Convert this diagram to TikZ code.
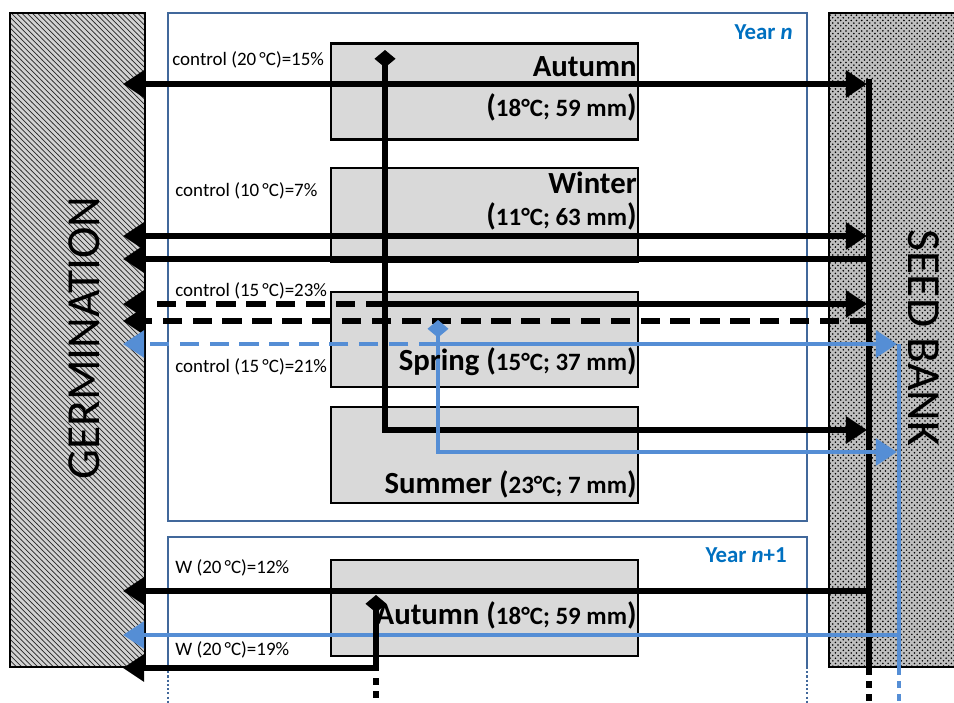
\documentclass[tikz,border=0pt]{standalone}
\usepackage{fontspec}
\setmainfont{Carlito}
\usepackage{xcolor}
\usetikzlibrary{arrows.meta,patterns,positioning}
\definecolor{frameblue}{HTML}{41689B}
\definecolor{yearblue}{HTML}{0070C0}
\definecolor{cohortblue}{HTML}{558ED5}
\definecolor{seasongray}{HTML}{D9D9D9}
\newcommand{\climfont}{\fontsize{14.2}{17}\selectfont}
\newcommand{\namefont}{\fontsize{17.5}{20}\selectfont\bfseries}
\newcommand{\clim}[1]{({\climfont #1})}
\tikzset{
  bigtri/.tip={Triangle[length=12pt,width=15pt]},
  gem/.tip={Diamond[length=10pt,width=12pt]},
  pool/.style={
    rectangle,
    draw=black,
    line width=1.2pt,
    inner sep=0pt,
    minimum height=13.08cm
  },
  season/.style={
    rectangle,
    draw=black,
    fill=seasongray,
    line width=1.3pt,
    inner sep=0pt,
    minimum width=6.14cm,
    minimum height=1.92cm
  },
  yearframe/.style={draw=frameblue, line width=1.1pt},
  seasontext/.style={anchor=east, inner sep=0pt, font=\namefont},
  ctrl/.style={anchor=west, inner sep=0pt, font=\fontsize{10.8}{13}\selectfont},
  yeartag/.style={anchor=east, inner sep=0pt, text=yearblue, font=\fontsize{13}{15}\selectfont\bfseries},
  pooltext/.style={inner sep=0pt, font=\fontsize{27}{30}\selectfont},
  flow/.style={line width=3.1pt, black},
  blueflow/.style={line width=2.7pt, cohortblue},
  dashline/.style={dash pattern=on 11pt off 6pt},
  tail/.style={dash pattern=on 4pt off 3.5pt}
}

\begin{document}
\begin{tikzpicture}[x=0.02cm, y=-0.02cm]
  \useasboundingbox (0,0) rectangle (954,703);

  % germination and seed bank
  \node[pool, preaction={fill=gray!35}, pattern=north west lines, pattern color=black!85,
        minimum width=2.7cm] (germ) at (77.5,340) {};
  \node[pool, preaction={fill=gray!50}, pattern=crosshatch dots, pattern color=black,
        minimum width=2.62cm] (bank) at (894.5,340) {};
  \node[pooltext, rotate=90] (germT) at (84,338) {GERMINATION};
  \node[pooltext, rotate=-90] (bankT) at (924,338) {SEED BANK};

  % years
  \node[yearframe, rectangle, inner sep=0pt, minimum width=12.78cm, minimum height=10.16cm] (yearn) at (487.5,267) {};
  \draw[yearframe] (168,667) |- (807,537) -- (807,667);
  \draw[yearframe, line width=0.9pt, dash pattern=on 1.2pt off 1.2pt] (168,667) -- (168,703);
  \draw[yearframe, line width=0.9pt, dash pattern=on 1.2pt off 1.2pt] (807,667) -- (807,703);
  \node[yeartag] (yearnT) at (793,32) {Year \textit{n}};
  \node[yeartag] (yearmT) at (787,555) {Year \textit{n}+1};

  % seasons
  \node[season] (aut) at (484.5,91.5) {};
  \node[season, minimum height=1.88cm, below=0.53cm of aut] (win) {};
  \node[season, minimum height=1.9cm, below=0.55cm of win] (spr) {};
  \node[season, below=0.36cm of spr] (sum) {};
  \node[season] (nxt) at (484.5,608) {};

  % germination controls
  \node[ctrl] (c20) at (172,60) {control (20\,°C)=15\%};
  \node[ctrl] (c10) at (175,191) {control (10\,°C)=7\%};
  \node[ctrl] (c15a) at (175,291) {control (15\,°C)=23\%};
  \node[ctrl] (c15b) at (175,367) {control (15\,°C)=21\%};
  \node[ctrl] (w12) at (175,568) {W (20\,°C)=12\%};
  \node[ctrl] (w19) at (175,650) {W (20\,°C)=19\%};

  % flow rows
  \foreach \rw/\yy in {a/84, w/236, wb/259, sp/304, sd/321, bl/344, su/430, sb/452, nk/591, nb/635, nx/668} {
    \coordinate (gin-\rw) at (123,\yy);
  }
  \coordinate (ktip) at (867,0);
  \coordinate (btip) at (897,0);
  \coordinate (kline) at (869,79);
  \coordinate (bline) at (899,344);
  \coordinate (autD) at (385,50);
  \coordinate (sprD) at (438,320);
  \coordinate (nxtD) at (376,595);

  % bank lines
  \draw[flow] (kline) -- (kline |- gin-nx);
  \draw[flow, tail] (kline |- gin-nx) -- ++(0,35);
  \draw[blueflow] (bline) -- (bline |- gin-nx);
  \draw[blueflow, tail] (bline |- gin-nx) -- ++(0,35);

  % two-way exchange
  \draw[flow, bigtri-bigtri] (gin-a) -- (ktip |- gin-a);
  \draw[flow, bigtri-bigtri] (gin-w) -- (ktip |- gin-w);

  % bank to germination
  \draw[flow, -bigtri] (kline |- gin-wb) -- (gin-wb);
  \draw[flow, dashline, -bigtri] (kline |- gin-sd) -- (gin-sd);
  \draw[flow, -bigtri] (kline |- gin-nk) -- (gin-nk);
  \draw[blueflow, -bigtri] (bline |- gin-nb) -- (gin-nb);

  % autumn cohort
  \draw[flow, gem-bigtri] (autD) |- (ktip |- gin-su);
  \draw[flow, -bigtri] (autD |- gin-sp) -- (ktip |- gin-sp);
  \draw[flow, dashline, -bigtri] (autD |- gin-sp) -- (gin-sp);

  % spring cohort
  \draw[blueflow, gem-bigtri] (sprD) |- (btip |- gin-sb);
  \draw[blueflow, -bigtri] (sprD |- gin-bl) -- (btip |- gin-bl);
  \draw[blueflow, dashline, -bigtri] (sprD |- gin-bl) -- (gin-bl);

  % next autumn cohort
  \draw[flow, gem-bigtri] (nxtD) |- (gin-nx);
  \draw[flow, tail] (nxtD |- gin-nx) ++(0,10) -- ++(0,30);

  % season names
  \node[seasontext] (autT) at (637,67) {Autumn};
  \node[seasontext] (autC) at (637,107) {\clim{18°C; 59 mm}};
  \node[seasontext] (winT) at (637,183) {Winter};
  \node[seasontext] (winC) at (637,216) {\clim{11°C; 63 mm}};
  \node[seasontext] (sprT) at (637,362) {Spring \clim{15°C; 37 mm}};
  \node[seasontext] (sumT) at (637,484) {Summer \clim{23°C; 7 mm}};
  \node[seasontext] (nxtT) at (637,615) {Autumn \clim{18°C; 59 mm}};
\end{tikzpicture}
\end{document}
